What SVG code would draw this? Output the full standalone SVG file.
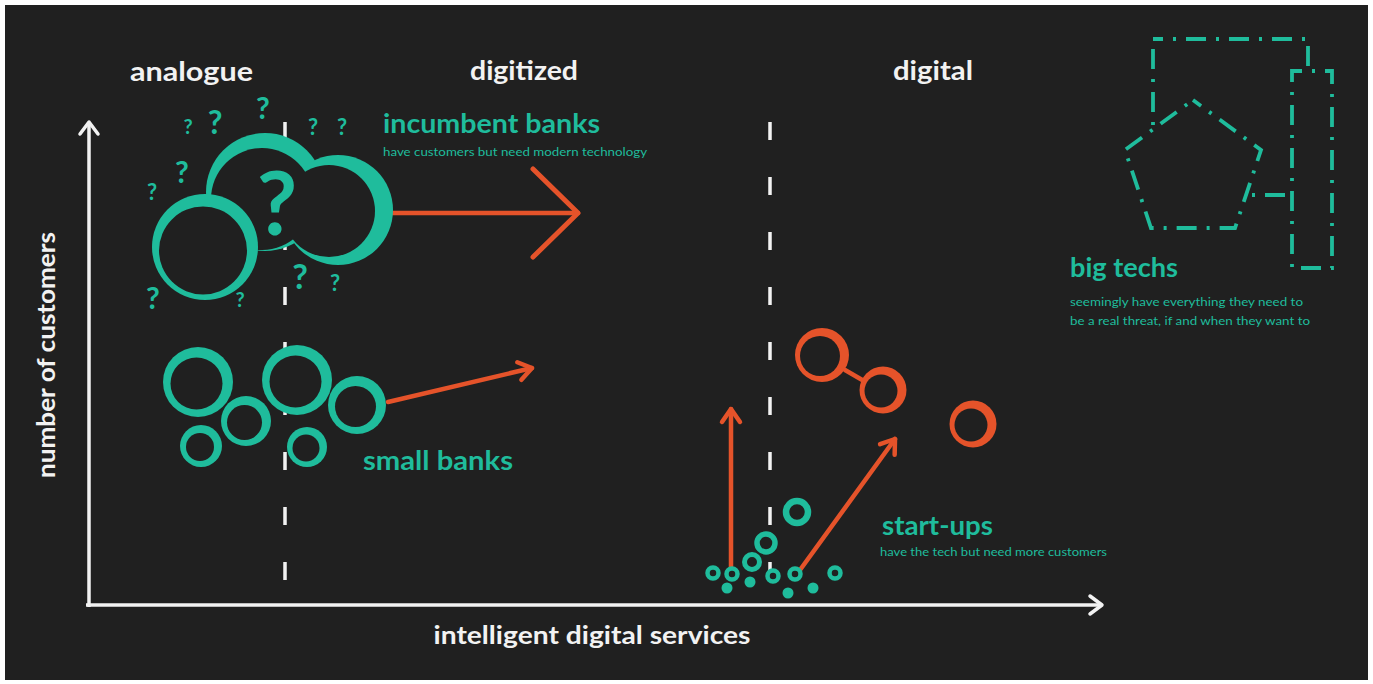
<svg xmlns="http://www.w3.org/2000/svg" width="1373" height="684" viewBox="0 0 1373 684">
<style>
.bgc{fill:#202020}
.tf{fill:#1fbc9c}
.of{fill:#e5532a}
.ax{stroke:#f2f2f2;stroke-width:3.5;fill:none}
.dsh{stroke:#f2f2f2;stroke-width:3.5;stroke-dasharray:18 37;fill:none}
.ol{stroke:#e5532a;stroke-width:4.5;fill:none;stroke-linecap:round}
.tr{stroke:#1fbc9c;fill:#202020}
.dd{stroke:#1fbc9c;stroke-width:3.8;fill:#202020;stroke-dasharray:20 10 3 10}
.w{fill:#f2f2f2;font-family:Lato,"Liberation Sans",sans-serif;font-weight:700}
.h{fill:#1fbc9c;font-family:Lato,"Liberation Sans",sans-serif;font-weight:700}
.s{fill:#1fbc9c;font-family:Lato,"Liberation Sans",sans-serif;font-weight:400;font-size:10.5px}
.q{fill:#1fbc9c;font-family:Lato,"Liberation Sans",sans-serif;font-weight:700;text-anchor:middle}
</style>
<defs>
<marker id="wh" markerUnits="userSpaceOnUse" markerWidth="40" markerHeight="40" viewBox="-20 -20 40 40" refX="0" refY="0" orient="auto" overflow="visible">
<path d="M-12,-9 L0,0 L-12,9" fill="none" stroke="#f2f2f2" stroke-width="3.5" stroke-linecap="round" stroke-linejoin="round"/>
</marker>
<marker id="oh" markerUnits="userSpaceOnUse" markerWidth="40" markerHeight="40" viewBox="-20 -20 40 40" refX="0" refY="0" orient="auto" overflow="visible">
<path d="M-13,-9 L0,0 L-13,9" fill="none" stroke="#e5532a" stroke-width="4.5" stroke-linecap="round" stroke-linejoin="round"/>
</marker>
<marker id="ohb" markerUnits="userSpaceOnUse" markerWidth="100" markerHeight="100" viewBox="-50 -50 100 100" refX="0" refY="0" orient="auto" overflow="visible">
<path d="M-45,-44 L0,0 L-45,44" fill="none" stroke="#e5532a" stroke-width="5" stroke-linecap="round" stroke-linejoin="round"/>
</marker>
</defs>
<rect x="0" y="0" width="1373" height="684" fill="#ffffff"/>
<rect class="bgc" x="5" y="5" width="1363" height="675"/>

<g id="axes">
<line class="ax" x1="89" y1="607" x2="89" y2="122" marker-end="url(#wh)"/>
<line class="ax" x1="86" y1="605" x2="1102" y2="605" marker-end="url(#wh)"/>
<text class="w" x="592" y="644" font-size="25" text-anchor="middle" textLength="317" lengthAdjust="spacingAndGlyphs">intelligent digital services</text>
<text class="w" transform="translate(55,355) rotate(-90)" font-size="25" text-anchor="middle" textLength="246" lengthAdjust="spacingAndGlyphs">number of customers</text>
</g>

<g id="phases">
<line class="dsh" x1="285" y1="122" x2="285" y2="580"/>
<line class="dsh" x1="770" y1="122" x2="770" y2="580"/>
<text class="w" x="130" y="81" font-size="27" textLength="123" lengthAdjust="spacingAndGlyphs">analogue</text>
<text class="w" x="470" y="80" font-size="27" textLength="108" lengthAdjust="spacingAndGlyphs">digitized</text>
<text class="w" x="893" y="80" font-size="27" textLength="80" lengthAdjust="spacingAndGlyphs">digital</text>
</g>

<g id="connectors">
<line class="ol" x1="391" y1="213" x2="578" y2="213" stroke-width="5" marker-end="url(#ohb)"/>
<line class="ol" x1="388" y1="402" x2="532" y2="368" marker-end="url(#oh)"/>
<line class="ol" x1="731" y1="570" x2="731" y2="409" marker-end="url(#oh)"/>
<line class="ol" x1="800" y1="570" x2="895" y2="439" marker-end="url(#oh)"/>
<line class="ol" x1="845" y1="370" x2="864" y2="381"/>
</g>

<g id="incumbent-banks">
<circle class="tf" cx="265" cy="192" r="59"/>
<circle class="tf" cx="338" cy="210" r="55"/>
<circle class="bgc" cx="262" cy="199" r="51"/>
<circle class="bgc" cx="329" cy="211" r="46"/>
<circle class="tf" cx="205" cy="247" r="53"/>
<circle class="bgc" cx="203" cy="250.5" r="44"/>
<text class="q" x="277" y="235" font-size="88">?</text>
<text class="q" x="263" y="119" font-size="30">?</text>
<text class="q" x="215" y="134" font-size="32">?</text>
<text class="q" x="188" y="134" font-size="20">?</text>
<text class="q" x="182" y="183" font-size="30">?</text>
<text class="q" x="152" y="200" font-size="22">?</text>
<text class="q" x="313" y="135" font-size="22">?</text>
<text class="q" x="342" y="135" font-size="22">?</text>
<text class="q" x="300" y="289" font-size="34">?</text>
<text class="q" x="335" y="291" font-size="22">?</text>
<text class="q" x="153" y="309" font-size="30">?</text>
<text class="q" x="240" y="307" font-size="20">?</text>
<text class="h" x="383" y="133" font-size="27" textLength="217" lengthAdjust="spacingAndGlyphs">incumbent banks</text>
<text class="s" x="383" y="156" textLength="264" lengthAdjust="spacingAndGlyphs">have customers but need modern technology</text>
</g>

<g id="small-banks">
<circle class="tf" cx="198" cy="382" r="35"/><circle class="bgc" cx="196.5" cy="383.5" r="26"/>
<circle class="tf" cx="246" cy="421" r="25"/><circle class="bgc" cx="244.5" cy="422.5" r="17.5"/>
<circle class="tf" cx="297" cy="380" r="35"/><circle class="bgc" cx="295.5" cy="381.5" r="26"/>
<circle class="tf" cx="357" cy="405" r="29"/><circle class="bgc" cx="355.5" cy="406.5" r="20.5"/>
<circle class="tf" cx="201" cy="446" r="21"/><circle class="bgc" cx="200" cy="447" r="14"/>
<circle class="tf" cx="307" cy="447" r="20"/><circle class="bgc" cx="306" cy="448" r="13.5"/>
<text class="h" x="363" y="470" font-size="27" textLength="150" lengthAdjust="spacingAndGlyphs">small banks</text>
</g>

<g id="start-ups">
<circle class="tr" cx="797" cy="512" r="11" stroke-width="6.5"/>
<circle class="tr" cx="766" cy="543" r="9" stroke-width="5.5"/>
<circle class="tr" cx="752" cy="562" r="7.5" stroke-width="5"/>
<circle class="tr" cx="713" cy="573" r="5.5" stroke-width="4.5"/>
<circle class="tr" cx="732" cy="574" r="5.5" stroke-width="4.5"/>
<circle class="tr" cx="773" cy="576" r="5.5" stroke-width="4.5"/>
<circle class="tr" cx="795" cy="574" r="5.5" stroke-width="4.5"/>
<circle class="tr" cx="835" cy="573" r="5.5" stroke-width="4.5"/>
<circle class="tf" cx="727" cy="588" r="5.5"/>
<circle class="tf" cx="750" cy="582" r="5.5"/>
<circle class="tf" cx="788" cy="593" r="5.5"/>
<circle class="tf" cx="813" cy="588" r="5.5"/>
<text class="h" x="882" y="535" font-size="27" textLength="111" lengthAdjust="spacingAndGlyphs">start-ups</text>
<text class="s" x="880" y="556" textLength="227" lengthAdjust="spacingAndGlyphs">have the tech but need more customers</text>
</g>

<g id="grown-start-ups">
<circle class="of" cx="822" cy="355" r="27"/><circle class="bgc" cx="820" cy="356" r="20"/>
<circle class="of" cx="883" cy="390" r="23.5"/><circle class="bgc" cx="881" cy="391" r="16.5"/>
<circle class="of" cx="973" cy="424" r="23.5"/><circle class="bgc" cx="971" cy="425" r="16.5"/>
</g>

<g id="big-techs">
<rect class="dd" x="1153" y="39" width="155" height="156" stroke-dashoffset="10"/>
<polygon class="dd" points="1193,100 1261,150 1235,228 1151,228 1125,150" stroke-dashoffset="10"/>
<rect class="dd" x="1292" y="71" width="40" height="197" stroke-dashoffset="10"/>
<text class="h" x="1070" y="277" font-size="27" textLength="108" lengthAdjust="spacingAndGlyphs">big techs</text>
<text class="s" x="1070" y="306" textLength="233" lengthAdjust="spacingAndGlyphs">seemingly have everything they need to</text>
<text class="s" x="1070" y="325" textLength="240" lengthAdjust="spacingAndGlyphs">be a real threat, if and when they want to</text>
</g>
</svg>
